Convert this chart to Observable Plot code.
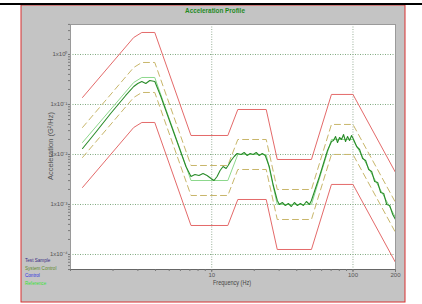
<!DOCTYPE html>
<html><head><meta charset="utf-8">
<script src="https://cdn.jsdelivr.net/npm/d3@7"></script>
<script src="https://cdn.jsdelivr.net/npm/@observablehq/plot@0.6"></script>
<style>
body{margin:0;width:422px;height:304px;position:relative;overflow:hidden;background:#fff;font-family:"Liberation Sans",Arial,sans-serif}
#topline{position:absolute;left:0;top:3px;width:422px;height:2px;background:#000}
#title{position:absolute;left:215px;top:6px;transform:translateX(-50%) scaleX(0.85);font-weight:bold;font-size:7.5px;color:#1f8a1f;white-space:nowrap}
#chart{position:absolute;left:0;top:0}
#ylabel{position:absolute;left:50px;top:146px;transform:translate(-50%,-50%) rotate(-90deg);font-size:7.5px;color:#555;white-space:nowrap}
#xlabel{position:absolute;left:232px;top:279px;transform:translateX(-50%) scaleX(0.85);font-size:6.5px;color:#444;white-space:nowrap}
#legend{position:absolute;left:25px;top:257px;font-size:4.6px;line-height:7.7px;white-space:nowrap}
</style></head>
<body>
<div id="chart"></div>
<div id="topline"></div>
<div id="title"></div>
<div id="ylabel"></div>
<div id="xlabel"></div>
<div id="legend"></div>
<script>
const titleText = "Acceleration Profile";
const xLabelText = "Frequency (Hz)";
const yLabelText = "Acceleration (G²/Hz)";

// reference profile (breakpoints)
const refFreq  = [1.217, 2.8, 3.2, 3.95, 7.13, 13.0, 15.3, 24.3, 29.1, 50.8, 70.4, 100, 200];
const refLevel = [0.0174, 0.275, 0.347, 0.347, 0.00302, 0.00302, 0.01, 0.01, 0.001, 0.001, 0.02, 0.02, 0.00055];
// tolerance bands (dB)
const alarmDb = 3;
const abortDb = 9;

// measured control spectrum
const ctrlFreq = [1.217,1.505,1.924,2.46,2.804,2.994,3.196,3.413,3.643,3.954,4.362,4.733,5.576,6.568,
 7.128,7.607,8.123,8.676,9.26,9.886,10.38,10.91,11.46,12.03,12.64,13.06,13.72,14.41,15.13,
 16.16,16.96,17.82,18.72,19.66,20.65,21.69,22.79,23.93,25.54,27.28,29.12,
 30.09,31.6,33.19,34.86,36.61,38.46,40.39,42.43,44.56,46.8,49.16,50.79,
 54.23,57.9,61.82,66.0,70.47,72.81,75.24,77.74,80.33,82.98,85.75,88.6,91.55,94.59,97.74,101,
 106.1,111.4,117.0,122.9,129.1,135.6,142.4,149.6,157.1,165.0,173.3,182.0,191.2,200];
const ctrlLevel = [0.01318,0.02754,0.06607,0.1514,0.2291,0.263,0.2884,0.263,0.302,0.2884,0.1445,0.07586,0.02089,0.005754,
 0.003631,0.003981,0.003802,0.004169,0.003802,0.003311,0.00302,0.003631,0.004786,0.005754,0.005248,0.006026,0.007586,0.00912,0.01047,
 0.01,0.01096,0.00955,0.01047,0.01,0.01096,0.00955,0.01047,0.00955,0.005754,0.002399,0.001202,
 0.001,0.001096,0.000955,0.001047,0.000912,0.001096,0.000955,0.001047,0.000955,0.001148,0.001,0.001202,
 0.002089,0.003631,0.006607,0.01202,0.0182,0.01905,0.02291,0.01738,0.02188,0.01995,0.02512,0.0182,0.02291,0.01905,0.02399,0.01995,
 0.01445,0.01259,0.008318,0.007586,0.005012,0.004571,0.002884,0.002754,0.001738,0.00166,0.001,0.000955,0.000631,0.000501];

const yTickValues = [1, 0.1, 0.01, 0.001, 0.0001];
const yTickLabels = ["1x10⁰", "1x10⁻¹", "1x10⁻²", "1x10⁻³", "1x10⁻⁴"];
const xTickValues = [10, 100, 200];
const xTickLabels = ["10", "100", "200"];
const xGridValues = [10, 100];

const legendNames  = ["Test Sample", "System Control", "Control", "Reference"];
const legendColors = ["#3a2d86", "#5e8a2c", "#3535e0", "#38e038"];

document.getElementById("title").textContent = titleText;
document.getElementById("xlabel").textContent = xLabelText;
document.getElementById("ylabel").textContent = yLabelText;
document.getElementById("legend").innerHTML = legendNames.map((n,i)=>`<div style="color:${legendColors[i]}">${n}</div>`).join("");

const ref = refFreq.map((f,i)=>({f, v: refLevel[i]}));
const band = db => ref.map(d => ({f: d.f, v: d.v * Math.pow(10, db/10)}));
const ctrl = ctrlFreq.map((f,i)=>({f, v: ctrlLevel[i]}));

const minorY = [];
for (let e = -5; e <= 0; e++) for (let k = 1; k <= 9; k++) { const v = k*Math.pow(10,e); if (v >= 5e-5 && v <= 4) minorY.push(v); }
const minorX = [];
for (let e = 0; e <= 2; e++) for (let k = 1; k <= 9; k++) { const v = k*Math.pow(10,e); if (v <= 200) minorX.push(v); }

const chart = Plot.plot({
  width: 422, height: 304,
  marginLeft: 70, marginRight: 27, marginTop: 24, marginBottom: 35,
  style: {backgroundColor: "white", fontFamily: "Liberation Sans, Arial, sans-serif", fontSize: "6px", color: "#444", overflow: "visible"},
  x: {type: "log", domain: [1, 200]},
  y: {type: "log", domain: [5.01e-5, 3.98]},
  marks: [
    // grey outer panel with red border
    Plot.frame({fill: "#c4c4c4", stroke: "#d83030", strokeWidth: 1, insetLeft: -49.5, insetRight: -9.5, insetTop: -19.5, insetBottom: -32.5}),
    Plot.frame({fill: "white", stroke: null}),
    Plot.gridY(yTickValues, {stroke: "#7fa87f", strokeOpacity: 1, strokeDasharray: "1,1.5"}),
    Plot.gridX(xGridValues, {stroke: "#9ab09a", strokeOpacity: 1, strokeDasharray: "1,1.5"}),
    Plot.line(band(abortDb), {x: "f", y: "v", stroke: "#e46a6a", strokeWidth: 1}),
    Plot.line(band(-abortDb), {x: "f", y: "v", stroke: "#e46a6a", strokeWidth: 1}),
    Plot.line(band(alarmDb), {x: "f", y: "v", stroke: "#c8b66a", strokeWidth: 1, strokeDasharray: "6,4"}),
    Plot.line(band(-alarmDb), {x: "f", y: "v", stroke: "#c8b66a", strokeWidth: 1, strokeDasharray: "6,4"}),
    Plot.line(ref, {x: "f", y: "v", stroke: "#8cd88c", strokeWidth: 1}),
    Plot.line(ctrl, {x: "f", y: "v", stroke: "#2a8c2a", strokeWidth: 1.1}),
    Plot.frame({stroke: "#9a9a9a", strokeWidth: 1}),
    Plot.ruleY([5.01e-5], {stroke: "#666"}),
    Plot.axisY(minorY, {tickSize: 2, tickFormat: () => "", label: null, stroke: "#777"}),
    Plot.axisY(yTickValues, {tickSize: 2, tickPadding: 1, tickFormat: (d) => yTickLabels[yTickValues.indexOf(d)], label: null, fill: "#555", stroke: "#777"}),
    Plot.axisX(minorX, {tickSize: 2, tickFormat: () => "", label: null, stroke: "#777"}),
    Plot.axisX(xTickValues, {tickSize: 3, tickPadding: 0, tickFormat: (d) => xTickLabels[xTickValues.indexOf(d)], label: null, fill: "#555", stroke: "#777"})
  ]
});
document.getElementById("chart").appendChild(chart);
</script>
</body></html>
